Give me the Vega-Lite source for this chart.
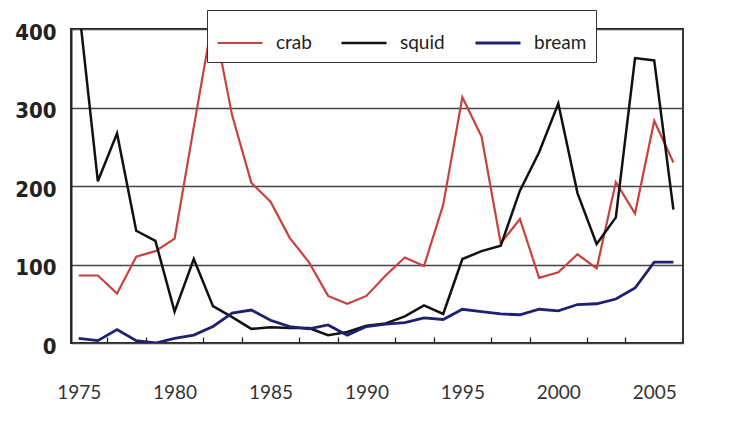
{
  "$schema": "https://vega.github.io/schema/vega-lite/v6.json",
  "width": 612,
  "height": 314,
  "autosize": {"type": "none"},
  "padding": {"left": 71, "top": 29, "right": 49, "bottom": 85},
  "background": "white",
  "config": {"view": {"stroke": "#222", "strokeWidth": 1.8}, "font": "Lato", "axisX": {"ticks": true, "tickColor": "#222", "tickSize": 6, "tickWidth": 1.3}},
  "datasets": {
    "catch": [
      {"year": 1975, "species": "crab", "value": 86}, {"year": 1976, "species": "crab", "value": 86}, {"year": 1977, "species": "crab", "value": 63}, {"year": 1978, "species": "crab", "value": 110},
      {"year": 1979, "species": "crab", "value": 117}, {"year": 1980, "species": "crab", "value": 133}, {"year": 1981, "species": "crab", "value": 275}, {"year": 1982, "species": "crab", "value": 415},
      {"year": 1983, "species": "crab", "value": 290}, {"year": 1984, "species": "crab", "value": 204}, {"year": 1985, "species": "crab", "value": 180}, {"year": 1986, "species": "crab", "value": 134},
      {"year": 1987, "species": "crab", "value": 103}, {"year": 1988, "species": "crab", "value": 60}, {"year": 1989, "species": "crab", "value": 50}, {"year": 1990, "species": "crab", "value": 60},
      {"year": 1991, "species": "crab", "value": 86}, {"year": 1992, "species": "crab", "value": 109}, {"year": 1993, "species": "crab", "value": 98}, {"year": 1994, "species": "crab", "value": 176},
      {"year": 1995, "species": "crab", "value": 313}, {"year": 1996, "species": "crab", "value": 263}, {"year": 1997, "species": "crab", "value": 127}, {"year": 1998, "species": "crab", "value": 158},
      {"year": 1999, "species": "crab", "value": 83}, {"year": 2000, "species": "crab", "value": 90}, {"year": 2001, "species": "crab", "value": 113}, {"year": 2002, "species": "crab", "value": 95},
      {"year": 2003, "species": "crab", "value": 205}, {"year": 2004, "species": "crab", "value": 165}, {"year": 2005, "species": "crab", "value": 283}, {"year": 2006, "species": "crab", "value": 230},
      {"year": 1975, "species": "squid", "value": 430}, {"year": 1976, "species": "squid", "value": 206}, {"year": 1977, "species": "squid", "value": 267}, {"year": 1978, "species": "squid", "value": 143},
      {"year": 1979, "species": "squid", "value": 130}, {"year": 1980, "species": "squid", "value": 40}, {"year": 1981, "species": "squid", "value": 107}, {"year": 1982, "species": "squid", "value": 47},
      {"year": 1983, "species": "squid", "value": 33}, {"year": 1984, "species": "squid", "value": 18}, {"year": 1985, "species": "squid", "value": 20}, {"year": 1986, "species": "squid", "value": 19},
      {"year": 1987, "species": "squid", "value": 19}, {"year": 1988, "species": "squid", "value": 10}, {"year": 1989, "species": "squid", "value": 14}, {"year": 1990, "species": "squid", "value": 22},
      {"year": 1991, "species": "squid", "value": 25}, {"year": 1992, "species": "squid", "value": 34}, {"year": 1993, "species": "squid", "value": 48}, {"year": 1994, "species": "squid", "value": 37},
      {"year": 1995, "species": "squid", "value": 107}, {"year": 1996, "species": "squid", "value": 117}, {"year": 1997, "species": "squid", "value": 124}, {"year": 1998, "species": "squid", "value": 194},
      {"year": 1999, "species": "squid", "value": 243}, {"year": 2000, "species": "squid", "value": 305}, {"year": 2001, "species": "squid", "value": 191}, {"year": 2002, "species": "squid", "value": 126},
      {"year": 2003, "species": "squid", "value": 160}, {"year": 2004, "species": "squid", "value": 363}, {"year": 2005, "species": "squid", "value": 360}, {"year": 2006, "species": "squid", "value": 170},
      {"year": 1975, "species": "bream", "value": 6}, {"year": 1976, "species": "bream", "value": 3}, {"year": 1977, "species": "bream", "value": 17}, {"year": 1978, "species": "bream", "value": 3},
      {"year": 1979, "species": "bream", "value": 0}, {"year": 1980, "species": "bream", "value": 6}, {"year": 1981, "species": "bream", "value": 10}, {"year": 1982, "species": "bream", "value": 21},
      {"year": 1983, "species": "bream", "value": 38}, {"year": 1984, "species": "bream", "value": 42}, {"year": 1985, "species": "bream", "value": 29}, {"year": 1986, "species": "bream", "value": 21},
      {"year": 1987, "species": "bream", "value": 18}, {"year": 1988, "species": "bream", "value": 23}, {"year": 1989, "species": "bream", "value": 10}, {"year": 1990, "species": "bream", "value": 21},
      {"year": 1991, "species": "bream", "value": 24}, {"year": 1992, "species": "bream", "value": 26}, {"year": 1993, "species": "bream", "value": 32}, {"year": 1994, "species": "bream", "value": 30},
      {"year": 1995, "species": "bream", "value": 43}, {"year": 1996, "species": "bream", "value": 40}, {"year": 1997, "species": "bream", "value": 37}, {"year": 1998, "species": "bream", "value": 36},
      {"year": 1999, "species": "bream", "value": 43}, {"year": 2000, "species": "bream", "value": 41}, {"year": 2001, "species": "bream", "value": 49}, {"year": 2002, "species": "bream", "value": 50},
      {"year": 2003, "species": "bream", "value": 56}, {"year": 2004, "species": "bream", "value": 70}, {"year": 2005, "species": "bream", "value": 103}, {"year": 2006, "species": "bream", "value": 103}
    ]
  },
  "data": {"name": "catch"},
  "mark": {"type": "line", "clip": true},
  "encoding": {
    "x": {
      "field": "year",
      "type": "quantitative",
      "scale": {"domain": [1974.6, 2006.5], "nice": false, "zero": false},
      "axis": {
        "title": null,
        "grid": false,
        "domain": false,
        "offset": -6,
        "values": [1975, 1975.5, 1976.5, 1977.5, 1978.5, 1979.5, 1980, 1980.5, 1981.5, 1982.5, 1983.5, 1984.5, 1985, 1985.5, 1986.5, 1987.5, 1988.5, 1989.5, 1990, 1990.5, 1991.5, 1992.5, 1993.5, 1994.5, 1995, 1995.5, 1996.5, 1997.5, 1998.5, 1999.5, 2000, 2000.5, 2001.5, 2002.5, 2003.5, 2004.5, 2005, 2005.5],
        "format": "d",
        "labelExpr": "datum.value % 5 === 0 ? datum.label : ''",
        "tickOpacity": {"condition": {"test": "datum.value % 1 === 0", "value": 0}, "value": 1},
        "labelFont": "Lato",
        "labelFontSize": 19,
        "labelColor": "#333",
        "labelPadding": 40,
        "labelFlush": false,
        "labelOverlap": false
      }
    },
    "y": {
      "field": "value",
      "type": "quantitative",
      "scale": {"domain": [0, 400], "nice": false},
      "axis": {
        "title": null,
        "values": [0, 100, 200, 300, 400],
        "grid": true,
        "gridColor": "#444",
        "gridWidth": 1.4,
        "tickSize": 0,
        "domainColor": "#222",
        "domainWidth": 2,
        "labelFont": "DejaVu Sans Condensed, Liberation Sans Narrow, Liberation Sans, sans-serif",
        "labelFontWeight": "bold",
        "labelFontSize": 22,
        "labelColor": "#222",
        "labelPadding": 15,
        "labelOffset": 3
      }
    },
    "color": {
      "field": "species",
      "type": "nominal",
      "scale": {"domain": ["crab", "squid", "bream"], "range": ["#c8423d", "#111111", "#1c2270"]},
      "legend": {
        "title": null,
        "orient": "none",
        "legendX": 136,
        "legendY": -19,
        "direction": "horizontal",
        "fillColor": "white",
        "strokeColor": "#333",
        "padding": 9,
        "symbolType": "stroke",
        "symbolSize": 2025,
        "symbolStrokeWidth": 3,
        "labelFont": "Lato",
        "labelFontSize": 19,
        "labelColor": "#222",
        "labelOffset": 12,
        "columnPadding": 24
      }
    },
    "strokeWidth": {
      "field": "species",
      "type": "nominal",
      "scale": {"domain": ["crab", "squid", "bream"], "range": [2.2, 2.8, 2.2]},
      "legend": null
    }
  }
}
